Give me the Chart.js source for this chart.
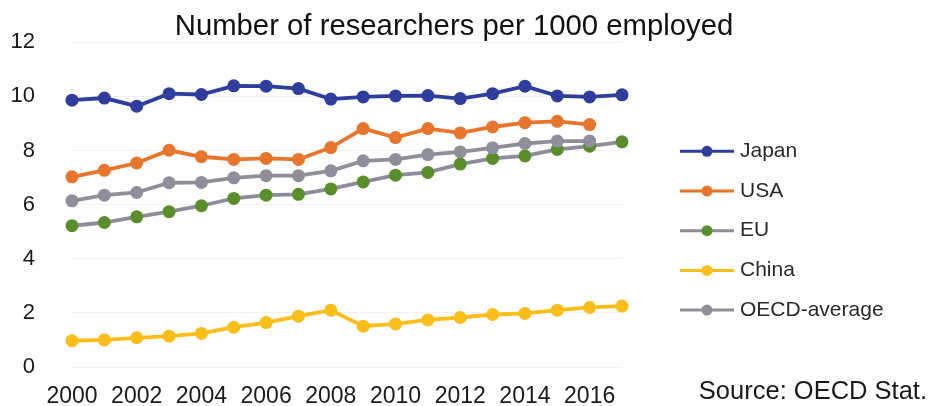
<!DOCTYPE html>
<html>
<head>
<meta charset="utf-8">
<title>Researchers per 1000 employed</title>
<script src="https://cdn.jsdelivr.net/npm/chart.js@4.4.1/dist/chart.umd.min.js"></script>
<style>
  html, body { margin: 0; padding: 0; background: #fff; }
  #chart { display: block; }
</style>
</head>
<body>
<canvas id="chart" width="935" height="406"></canvas>
<script>
var years = [2000, 2001, 2002, 2003, 2004, 2005, 2006, 2007, 2008,
             2009, 2010, 2011, 2012, 2013, 2014, 2015, 2016, 2017];
var xTicks = [2000, 2002, 2004, 2006, 2008, 2010, 2012, 2014, 2016];
var yTicks = [0, 2, 4, 6, 8, 10, 12];

var japan = [9.86, 9.94, 9.64, 10.1, 10.07, 10.39, 10.38, 10.29, 9.9,
             9.98, 10.02, 10.03, 9.92, 10.1, 10.38, 10.02, 9.98, 10.06];
var usa = [7.03, 7.27, 7.54, 8.01, 7.77, 7.67, 7.71, 7.67, 8.11,
           8.81, 8.48, 8.81, 8.65, 8.87, 9.03, 9.08, 8.96];
var eu = [5.22, 5.34, 5.55, 5.74, 5.96, 6.23, 6.35, 6.38, 6.58,
          6.84, 7.09, 7.19, 7.5, 7.71, 7.8, 8.04, 8.16, 8.32];
var china = [0.97, 1.0, 1.08, 1.14, 1.24, 1.47, 1.64, 1.88, 2.1,
             1.51, 1.59, 1.74, 1.83, 1.94, 1.98, 2.1, 2.2, 2.25];
var oecd = [6.14, 6.35, 6.45, 6.81, 6.82, 6.99, 7.07, 7.07, 7.25,
            7.62, 7.67, 7.85, 7.95, 8.1, 8.26, 8.35, 8.35];

var seriesNames = ["Japan", "USA", "EU", "China", "OECD-average"];
var sourceText = "Source: OECD Stat.";

var FONT = "'Liberation Sans', Arial, sans-serif";

function points(values){
  var pts = [];
  for (var i = 0; i < values.length; i++) {
    pts.push({x: years[i], y: values[i]});
  }
  return pts;
}

function series(name, values, lineColor, dotColor, order){
  return {
    label: name,
    data: points(values),
    borderColor: lineColor,
    backgroundColor: dotColor,
    pointBackgroundColor: dotColor,
    pointBorderColor: dotColor,
    pointBorderWidth: 0,
    pointRadius: 6.5,
    borderWidth: 3.8,
    tension: 0,
    clip: false,
    order: order
  };
}

// no extra room for half tick labels, the plot fills the space
function noLabelPadding(scale){
  scale.paddingTop = 0;
  scale.paddingBottom = 0;
}

// legend on the right: line sample with a dot, then the name; plus source note
var sideLegend = {
  id: "sideLegend",
  afterDraw: function(chart){
    var ctx = chart.ctx;
    var area = chart.chartArea;
    var sets = chart.data.datasets;
    ctx.save();
    for (var i = 0; i < sets.length; i++) {
      var y = area.top + 109 + i * 39.7;
      var x0 = area.right + 58;
      ctx.strokeStyle = sets[i].borderColor;
      ctx.lineWidth = 3;
      ctx.beginPath();
      ctx.moveTo(x0, y);
      ctx.lineTo(x0 + 54, y);
      ctx.stroke();
      ctx.fillStyle = sets[i].pointBackgroundColor;
      ctx.beginPath();
      ctx.arc(x0 + 27, y, 5.5, 0, Math.PI * 2);
      ctx.fill();
      ctx.fillStyle = "#2a2a2a";
      ctx.font = "21px " + FONT;
      ctx.textBaseline = "middle";
      ctx.textAlign = "left";
      ctx.fillText(sets[i].label, x0 + 60, y);
    }
    ctx.fillStyle = "#1a1a1a";
    ctx.font = "25.5px " + FONT;
    ctx.textAlign = "right";
    ctx.textBaseline = "middle";
    ctx.fillText(sourceText, 927, 392);
    ctx.restore();
  }
};

var ctx = document.getElementById("chart").getContext("2d");
var myChart = new Chart(ctx, {
  type: "line",
  data: {
    datasets: [
      series(seriesNames[0], japan, "#2f3d9c", "#2f3d9c", 5),
      series(seriesNames[1], usa, "#e8752c", "#e8752c", 4),
      series(seriesNames[2], eu, "#8c8d9c", "#5a8e2b", 3),
      series(seriesNames[3], china, "#fbbd1a", "#fbbd1a", 2),
      series(seriesNames[4], oecd, "#8e8f9a", "#8e8f9a", 1)
    ]
  },
  options: {
    responsive: false,
    animation: false,
    layout: { padding: { left: 0, right: 27, top: 0, bottom: 0 } },
    plugins: {
      legend: { display: false },
      tooltip: { enabled: false },
      title: {
        display: true,
        text: "Number of researchers per 1000 employed",
        color: "#111",
        font: { family: FONT, size: 29.3, weight: "normal", lineHeight: 1 },
        padding: { top: 12.5, bottom: 0.5 }
      }
    },
    scales: {
      x: {
        type: "linear",
        min: 2000,
        max: 2017,
        grid: { display: false, drawTicks: false },
        border: { display: false },
        afterBuildTicks: function(scale){
          scale.ticks = xTicks.map(function(v){ return {value: v}; });
        },
        afterFit: function(scale){ scale.height = 39; },
        ticks: {
          color: "#1a1a1a",
          padding: 15.5,
          maxRotation: 0,
          font: { family: FONT, size: 23 },
          callback: function(v){ return String(v); }
        }
      },
      y: {
        min: 0,
        max: 12,
        border: { display: false },
        grid: { color: "#f1f1f1", lineWidth: 1, drawTicks: false },
        afterBuildTicks: function(scale){
          scale.ticks = yTicks.map(function(v){ return {value: v}; });
        },
        afterFit: function(scale){
          scale.width = 72;
          noLabelPadding(scale);
        },
        ticks: {
          color: "#1a1a1a",
          padding: 37,
          font: { family: FONT, size: 22 }
        }
      },
      legendSpace: {
        position: "right",
        display: true,
        grid: { display: false },
        border: { display: false },
        ticks: { display: false },
        afterFit: function(scale){
          scale.width = 286;
          noLabelPadding(scale);
        }
      }
    }
  },
  plugins: [sideLegend]
});
</script>
</body>
</html>
